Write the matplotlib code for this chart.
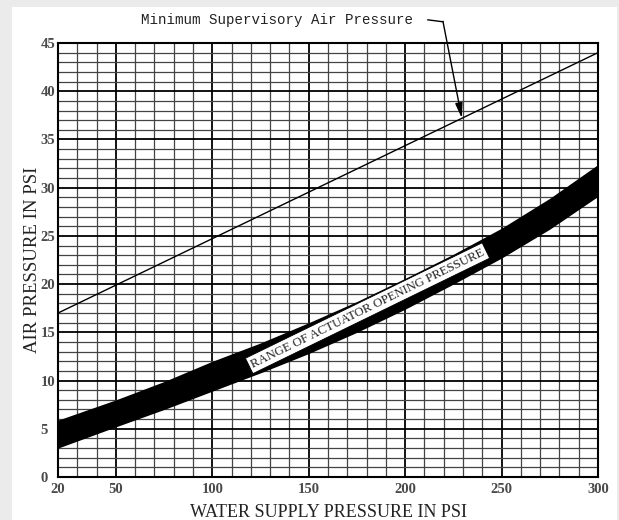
import matplotlib
matplotlib.use("Agg")
import matplotlib.pyplot as plt
from matplotlib.patches import Rectangle

# values
water_psi = [20, 50, 75, 100, 125, 150, 175, 200, 225, 250, 275, 300]
band_upper = [5.9, 8.0, 9.9, 12.0, 13.9, 16.0, 18.2, 20.6, 23.1, 25.8, 28.9, 32.4]
band_lower = [3.0, 5.2, 7.0, 8.9, 10.8, 12.8, 15.0, 17.4, 20.0, 22.7, 25.7, 29.1]
min_sup_x = [20, 300]
min_sup_y = [17.0, 44.0]

x_ticks = [20, 50, 100, 150, 200, 250, 300]
y_ticks = [0, 5, 10, 15, 20, 25, 30, 35, 40, 45]

serif = "Liberation Serif"

fig = plt.figure(figsize=(6.19, 5.20), dpi=100, facecolor="#ebebeb")
fig.patches.append(Rectangle((12 / 619, 0), 605 / 619, 513 / 520,
                             transform=fig.transFigure, facecolor="white",
                             edgecolor="none", zorder=-10))
ax = fig.add_axes([58 / 619, 1 - 477 / 520, 540 / 619, 434 / 520])
ax.set_facecolor("white")
ax.set_xlim(20, 300)
ax.set_ylim(0, 45)

# grid: thin every 10 psi / 1 psi, heavy every 50 psi / 5 psi
for xv in range(30, 300, 10):
    heavy = xv % 50 == 0
    ax.axvline(xv, color="black" if heavy else "#444444",
               lw=1.3 if heavy else 0.9, zorder=1)
for yv in range(1, 45):
    heavy = yv % 5 == 0
    ax.axhline(yv, color="black" if heavy else "#444444",
               lw=1.3 if heavy else 0.9, zorder=1)

# operating range band
ax.fill_between(water_psi, band_lower, band_upper, color="black", lw=0, zorder=3)

# minimum supervisory line
ax.plot(min_sup_x, min_sup_y, color="black", lw=1.0, zorder=3)

ax.text(180.5, 17.5, "RANGE OF ACTUATOR OPENING PRESSURE", rotation=26,
        rotation_mode="anchor", ha="center", va="center", fontsize=9.2,
        family=serif, color="#222222", zorder=5,
        bbox=dict(boxstyle="square,pad=0.2", fc="white", ec="black", lw=0.6))

# callout for the supervisory line
ax.text(204, 47.4, "Minimum Supervisory Air Pressure", ha="right", va="center",
        fontsize=10.2, family="Liberation Mono", color="#222222", clip_on=False)
ax.plot([211.8, 219.6], [47.4, 47.2], color="black", lw=1.0, clip_on=False)
ax.annotate("", xy=(229.4, 37.2), xytext=(219.6, 47.25),
            arrowprops=dict(arrowstyle="-|>,head_length=0.9,head_width=0.22",
                            color="black", lw=1.0, shrinkA=0, shrinkB=0),
            annotation_clip=False, zorder=6)

ax.set_xticks(x_ticks)
ax.set_yticks(y_ticks)
ax.tick_params(length=0)
ax.tick_params(axis="x", pad=4)
ax.tick_params(axis="y", pad=12.5)
for lab in ax.get_xticklabels() + ax.get_yticklabels():
    lab.set_family(serif)
    lab.set_fontsize(10.5)
    lab.set_fontweight("bold")
    lab.set_color("#4a4a4a")
for lab in ax.get_yticklabels():
    lab.set_horizontalalignment("left")

ax.set_xlabel("WATER SUPPLY PRESSURE IN PSI", family=serif, fontsize=13,
              color="#222222", labelpad=6)
ax.set_ylabel("AIR PRESSURE IN PSI", family=serif, fontsize=13.5,
              color="#222222", labelpad=0)

for sp in ax.spines.values():
    sp.set_linewidth(1.5)
    sp.set_zorder(6)

fig.savefig("out.png", dpi=100, facecolor=fig.get_facecolor())
